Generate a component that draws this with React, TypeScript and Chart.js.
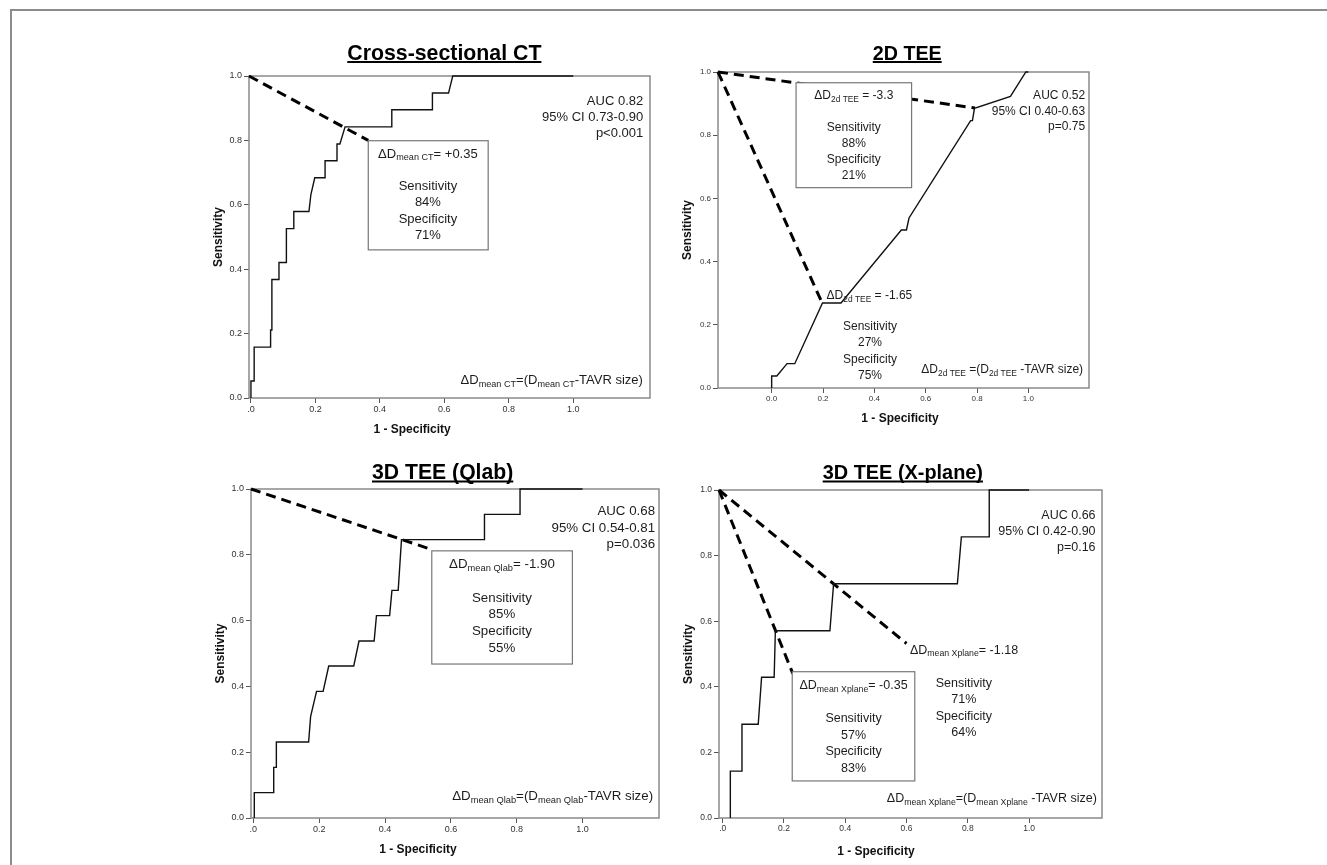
import React, { useEffect, useRef } from 'react';
import { Chart, registerables } from 'chart.js';

Chart.register(...registerables);

const FONT = '"Liberation Sans", Arial, Helvetica, sans-serif';

// ---------------- data ----------------
const xTickValues = [0, 0.2, 0.4, 0.6, 0.8, 1.0];
const yTickValues = [0, 0.2, 0.4, 0.6, 0.8, 1.0];
const yTickLabels = ['0.0', '0.2', '0.4', '0.6', '0.8', '1.0'];
const xTickLabelsSpss = ['.0', '0.2', '0.4', '0.6', '0.8', '1.0'];
const xTickLabels2d = ['0.0', '0.2', '0.4', '0.6', '0.8', '1.0'];

// Cross-sectional CT
const ctRocX = [0, 0, 0.01, 0.01, 0.06, 0.061, 0.065, 0.065, 0.087, 0.087, 0.11, 0.11, 0.133, 0.133, 0.18, 0.186, 0.198, 0.23, 0.23, 0.267, 0.267, 0.276, 0.292, 0.437, 0.437, 0.563, 0.563, 0.613, 0.626, 1.0];
const ctRocY = [0, 0.053, 0.053, 0.158, 0.158, 0.211, 0.211, 0.368, 0.368, 0.421, 0.421, 0.526, 0.526, 0.579, 0.579, 0.632, 0.684, 0.684, 0.737, 0.737, 0.789, 0.789, 0.842, 0.842, 0.895, 0.895, 0.947, 0.947, 1.0, 1.0];
const ctCutX = [-0.006, 0.364];
const ctCutY = [1.0, 0.8];

// 2D TEE
const tee2dRocX = [0, 0, 0.02, 0.06, 0.09, 0.198, 0.27, 0.505, 0.525, 0.535, 0.775, 0.782, 0.79, 0.93, 0.99, 1.0];
const tee2dRocY = [0, 0.038, 0.038, 0.077, 0.077, 0.269, 0.269, 0.5, 0.5, 0.538, 0.846, 0.846, 0.885, 0.923, 1.0, 1.0];
const tee2dCutHighX = [-0.209, 0.792];
const tee2dCutHighY = [1.0, 0.886];
const tee2dCutLowX = [-0.209, 0.195];
const tee2dCutLowY = [1.0, 0.272];

// 3D TEE (Qlab)
const qlabRocX = [0.003, 0.003, 0.062, 0.062, 0.07, 0.07, 0.168, 0.174, 0.192, 0.212, 0.229, 0.305, 0.321, 0.367, 0.374, 0.414, 0.421, 0.44, 0.445, 0.45, 0.702, 0.702, 0.81, 0.81, 1.0];
const qlabRocY = [0, 0.077, 0.077, 0.154, 0.154, 0.231, 0.231, 0.308, 0.385, 0.385, 0.462, 0.462, 0.538, 0.538, 0.615, 0.615, 0.692, 0.692, 0.769, 0.846, 0.846, 0.923, 0.923, 1.0, 1.0];
const qlabCutX = [-0.007, 0.542];
const qlabCutY = [1.0, 0.816];

// 3D TEE (X-plane)
const xplaneRocX = [0.025, 0.025, 0.063, 0.063, 0.116, 0.127, 0.168, 0.172, 0.35, 0.362, 0.766, 0.779, 0.87, 0.87, 1.0];
const xplaneRocY = [0, 0.143, 0.143, 0.286, 0.286, 0.429, 0.429, 0.571, 0.571, 0.714, 0.714, 0.857, 0.857, 1.0, 1.0];
const xplaneCutAX = [-0.012, 0.229];
const xplaneCutAY = [1.0, 0.44];
const xplaneCutBX = [-0.012, 0.6];
const xplaneCutBY = [1.0, 0.532];

// ---------------- layout / annotations ----------------
type Align = 'left' | 'center' | 'right';
type Block = { x: number; y: number; align: Align; lines: string[]; lh: number };
type Box = { x0: number; x1: number; y0: number; y1: number };
type Cut = { x: number[]; y: number[] };
type PanelCfg = {
  left: number; top: number; w: number; h: number;
  xMin: number; xMax: number;
  rocX: number[]; rocY: number[];
  cuts: Cut[];
  xLabels: string[];
  fs: number; tickFs: number; titleFs: number;
  title: string; titleX: number; titleDy: number; xTitleDy: number;
  boxes: Box[]; blocks: Block[];
};

const PAD_TOP = 45;
const PAD_RIGHT = 10;
const Y_AXIS_W = 42;
const X_AXIS_H = 50;

const panels: PanelCfg[] = [
  {
    left: 207, top: 31, w: 453, h: 417,
    xMin: -0.006, xMax: 1.238,
    rocX: ctRocX, rocY: ctRocY,
    cuts: [{ x: ctCutX, y: ctCutY }],
    xLabels: xTickLabelsSpss,
    fs: 13, tickFs: 9, titleFs: 21.3,
    title: 'Cross-sectional CT', titleX: 0.6, titleDy: 16.5, xTitleDy: 32,
    boxes: [{ x0: 0.364, x1: 0.736, y0: 0.46, y1: 0.799 }],
    blocks: [
      { x: 0.549, y: 0.758, align: 'center', lh: 16.3, lines: ['ΔD_{mean CT}= +0.35', '', 'Sensitivity', '84%', 'Specificity', '71%'] },
      { x: 1.217, y: 0.92, align: 'right', lh: 15.8, lines: ['AUC 0.82', '95% CI 0.73-0.90', 'p<0.001'] },
      { x: 1.216, y: 0.054, align: 'right', lh: 16, lines: ['ΔD_{mean CT}=(D_{mean CT}-TAVR size)'] },
    ],
  },
  {
    left: 676, top: 27, w: 423, h: 411,
    xMin: -0.209, xMax: 1.236,
    rocX: tee2dRocX, rocY: tee2dRocY,
    cuts: [{ x: tee2dCutHighX, y: tee2dCutHighY }, { x: tee2dCutLowX, y: tee2dCutLowY }],
    xLabels: xTickLabels2d,
    fs: 12, tickFs: 8, titleFs: 19.7,
    title: '2D TEE', titleX: 0.528, titleDy: 12.5, xTitleDy: 30.5,
    boxes: [{ x0: 0.095, x1: 0.545, y0: 0.634, y1: 0.966 }],
    blocks: [
      { x: 0.32, y: 0.924, align: 'center', lh: 15.9, lines: ['ΔD_{2d TEE} = -3.3', '', 'Sensitivity', '88%', 'Specificity', '21%'] },
      { x: 0.214, y: 0.291, align: 'left', lh: 16, lines: ['ΔD_{2d TEE} = -1.65'] },
      { x: 0.383, y: 0.194, align: 'center', lh: 16.4, lines: ['Sensitivity', '27%', 'Specificity', '75%'] },
      { x: 1.221, y: 0.924, align: 'right', lh: 15.5, lines: ['AUC 0.52', '95% CI 0.40-0.63', 'p=0.75'] },
      { x: 1.213, y: 0.057, align: 'right', lh: 16, lines: ['ΔD_{2d TEE} =(D_{2d TEE} -TAVR size)'] },
    ],
  },
  {
    left: 209, top: 444, w: 460, h: 424,
    xMin: -0.007, xMax: 1.232,
    rocX: qlabRocX, rocY: qlabRocY,
    cuts: [{ x: qlabCutX, y: qlabCutY }],
    xLabels: xTickLabelsSpss,
    fs: 13.3, tickFs: 9, titleFs: 21.2,
    title: '3D TEE (Qlab)', titleX: 0.575, titleDy: 10, xTitleDy: 32,
    boxes: [{ x0: 0.542, x1: 0.969, y0: 0.468, y1: 0.812 }],
    blocks: [
      { x: 0.755, y: 0.771, align: 'center', lh: 16.8, lines: ['ΔD_{mean Qlab}= -1.90', '', 'Sensitivity', '85%', 'Specificity', '55%'] },
      { x: 1.22, y: 0.931, align: 'right', lh: 16.3, lines: ['AUC 0.68', '95% CI 0.54-0.81', 'p=0.036'] },
      { x: 1.214, y: 0.067, align: 'right', lh: 16, lines: ['ΔD_{mean Qlab}=(D_{mean Qlab}-TAVR size)'] },
    ],
  },
  {
    left: 677, top: 445, w: 435, h: 423,
    xMin: -0.012, xMax: 1.238,
    rocX: xplaneRocX, rocY: xplaneRocY,
    cuts: [{ x: xplaneCutAX, y: xplaneCutAY }, { x: xplaneCutBX, y: xplaneCutBY }],
    xLabels: xTickLabelsSpss,
    fs: 12.5, tickFs: 8.5, titleFs: 19.9,
    title: '3D TEE (X-plane)', titleX: 0.588, titleDy: 11, xTitleDy: 33.5,
    boxes: [{ x0: 0.227, x1: 0.627, y0: 0.113, y1: 0.446 }],
    blocks: [
      { x: 0.427, y: 0.403, align: 'center', lh: 16.5, lines: ['ΔD_{mean Xplane}= -0.35', '', 'Sensitivity', '57%', 'Specificity', '83%'] },
      { x: 0.611, y: 0.512, align: 'left', lh: 16, lines: ['ΔD_{mean Xplane}= -1.18'] },
      { x: 0.787, y: 0.411, align: 'center', lh: 16.6, lines: ['Sensitivity', '71%', 'Specificity', '64%'] },
      { x: 1.217, y: 0.922, align: 'right', lh: 16, lines: ['AUC 0.66', '95% CI 0.42-0.90', 'p=0.16'] },
      { x: 1.221, y: 0.058, align: 'right', lh: 16, lines: ['ΔD_{mean Xplane}=(D_{mean Xplane} -TAVR size)'] },
    ],
  },
];

// ---------------- drawing helpers ----------------
function parseRich(s: string) {
  const out: { t: string; sub: boolean }[] = [];
  const re = /_\{([^}]*)\}/g;
  let last = 0;
  let m: RegExpExecArray | null;
  while ((m = re.exec(s))) {
    if (m.index > last) out.push({ t: s.slice(last, m.index), sub: false });
    out.push({ t: m[1], sub: true });
    last = m.index + m[0].length;
  }
  if (last < s.length) out.push({ t: s.slice(last), sub: false });
  return out;
}

function drawRich(ctx: CanvasRenderingContext2D, s: string, x: number, y: number, align: Align, fs: number) {
  const segs = parseRich(s);
  const mainF = `${fs}px ${FONT}`;
  const subF = `${fs * 0.7}px ${FONT}`;
  let w = 0;
  const ws = segs.map((sg) => {
    ctx.font = sg.sub ? subF : mainF;
    const mw = ctx.measureText(sg.t).width;
    w += mw;
    return mw;
  });
  let cx = align === 'left' ? x : align === 'right' ? x - w : x - w / 2;
  ctx.textAlign = 'left';
  ctx.textBaseline = 'middle';
  segs.forEach((sg, i) => {
    ctx.font = sg.sub ? subF : mainF;
    ctx.fillText(sg.t, cx, sg.sub ? y + fs * 0.3 : y);
    cx += ws[i];
  });
}

function makeDeco(c: PanelCfg) {
  return {
    id: 'deco',
    beforeDatasetsDraw(chart: any) {
      const { ctx, chartArea: a } = chart;
      ctx.save();
      ctx.strokeStyle = '#8a8a8a';
      ctx.lineWidth = 1.5;
      ctx.strokeRect(a.left, a.top, a.right - a.left, a.bottom - a.top);
      ctx.restore();
    },
    afterDatasetsDraw(chart: any) {
      const { ctx, chartArea: a } = chart;
      const xs = chart.scales.x;
      const ys = chart.scales.y;
      ctx.save();
      // boxes
      c.boxes.forEach((b) => {
        const x0 = xs.getPixelForValue(b.x0);
        const x1 = xs.getPixelForValue(b.x1);
        const y0 = ys.getPixelForValue(b.y1);
        const y1 = ys.getPixelForValue(b.y0);
        ctx.fillStyle = '#ffffff';
        ctx.fillRect(x0, y0, x1 - x0, y1 - y0);
        ctx.strokeStyle = '#777777';
        ctx.lineWidth = 1.2;
        ctx.strokeRect(x0, y0, x1 - x0, y1 - y0);
      });
      // text blocks
      ctx.fillStyle = '#1c1c1c';
      c.blocks.forEach((bl) => {
        const px = xs.getPixelForValue(bl.x);
        const py0 = ys.getPixelForValue(bl.y);
        bl.lines.forEach((ln, i) => {
          if (ln) drawRich(ctx, ln, px, py0 + i * bl.lh, bl.align, c.fs);
        });
      });
      // panel title, bold + underlined
      ctx.fillStyle = '#000';
      ctx.font = `bold ${c.titleFs}px ${FONT}`;
      ctx.textAlign = 'center';
      ctx.textBaseline = 'alphabetic';
      const tx = xs.getPixelForValue(c.titleX);
      const ty = a.top - c.titleDy;
      ctx.fillText(c.title, tx, ty);
      const tw = ctx.measureText(c.title).width;
      ctx.strokeStyle = '#000';
      ctx.lineWidth = 2;
      ctx.beginPath();
      ctx.moveTo(tx - tw / 2, ty + 2.5);
      ctx.lineTo(tx + tw / 2, ty + 2.5);
      ctx.stroke();
      // x axis title centred under 0..1
      ctx.font = `bold 12px ${FONT}`;
      ctx.textBaseline = 'middle';
      ctx.fillStyle = '#111';
      ctx.fillText('1 - Specificity', xs.getPixelForValue(0.5), a.bottom + c.xTitleDy);
      ctx.restore();
    },
  };
}

function buildConfig(c: PanelCfg): any {
  const datasets: any[] = [
    {
      data: c.rocX.map((x, i) => ({ x, y: c.rocY[i] })),
      borderColor: '#111',
      borderWidth: 1.4,
      pointRadius: 0,
      showLine: true,
      tension: 0,
      fill: false,
      clip: 4,
    },
  ];
  c.cuts.forEach((cut) => {
    datasets.push({
      data: cut.x.map((x, i) => ({ x, y: cut.y[i] })),
      borderColor: '#000',
      borderWidth: 3,
      borderDash: [10, 6],
      pointRadius: 0,
      showLine: true,
      tension: 0,
      fill: false,
      clip: 4,
    });
  });
  return {
    type: 'scatter',
    data: { datasets },
    options: {
      responsive: false,
      animation: false,
      events: [],
      layout: { padding: { top: PAD_TOP, right: PAD_RIGHT, left: 0, bottom: 0 } },
      plugins: { legend: { display: false }, tooltip: { enabled: false }, title: { display: false } },
      scales: {
        x: {
          type: 'linear',
          position: 'bottom',
          min: c.xMin,
          max: c.xMax,
          afterBuildTicks: (s: any) => {
            s.ticks = xTickValues.map((v) => ({ value: v }));
          },
          afterFit: (s: any) => {
            s.height = X_AXIS_H;
          },
          ticks: {
            autoSkip: false,
            maxRotation: 0,
            padding: 1,
            color: '#333',
            font: { family: FONT, size: c.tickFs },
            callback: (_v: any, i: number) => c.xLabels[i],
          },
          grid: { display: true, drawOnChartArea: false, drawTicks: true, tickLength: 5, color: '#555' },
          border: { display: false },
        },
        y: {
          type: 'linear',
          position: 'left',
          min: 0,
          max: 1,
          afterBuildTicks: (s: any) => {
            s.ticks = yTickValues.map((v) => ({ value: v }));
          },
          afterFit: (s: any) => {
            s.width = Y_AXIS_W;
          },
          ticks: {
            autoSkip: false,
            padding: 2,
            color: '#333',
            font: { family: FONT, size: c.tickFs },
            callback: (_v: any, i: number) => yTickLabels[i],
          },
          grid: { display: true, drawOnChartArea: false, drawTicks: true, tickLength: 5, color: '#555' },
          border: { display: false },
          title: {
            display: true,
            text: 'Sensitivity',
            color: '#111',
            font: { family: FONT, size: 12, weight: 'bold' },
            padding: { top: 4, bottom: 4 },
          },
        },
      },
    },
    plugins: [makeDeco(c)],
  };
}

function Panel({ cfg }: { cfg: PanelCfg }) {
  const ref = useRef<HTMLCanvasElement>(null);
  useEffect(() => {
    if (!ref.current) return;
    const chart = new Chart(ref.current, buildConfig(cfg));
    return () => chart.destroy();
  }, [cfg]);
  return (
    <canvas
      ref={ref}
      width={cfg.w}
      height={cfg.h}
      style={{ position: 'absolute', left: cfg.left, top: cfg.top, width: cfg.w, height: cfg.h }}
    />
  );
}

export default function App() {
  return (
    <div
      style={{
        position: 'absolute',
        left: 0,
        top: 0,
        width: 1327,
        height: 865,
        overflow: 'hidden',
        background: '#fff',
      }}
    >
      <div
        style={{
          position: 'absolute',
          left: 10,
          top: 9,
          width: 1400,
          height: 900,
          borderTop: '2px solid #8c8c8c',
          borderLeft: '2px solid #8c8c8c',
        }}
      />
      {panels.map((p, i) => (
        <Panel key={i} cfg={p} />
      ))}
    </div>
  );
}
